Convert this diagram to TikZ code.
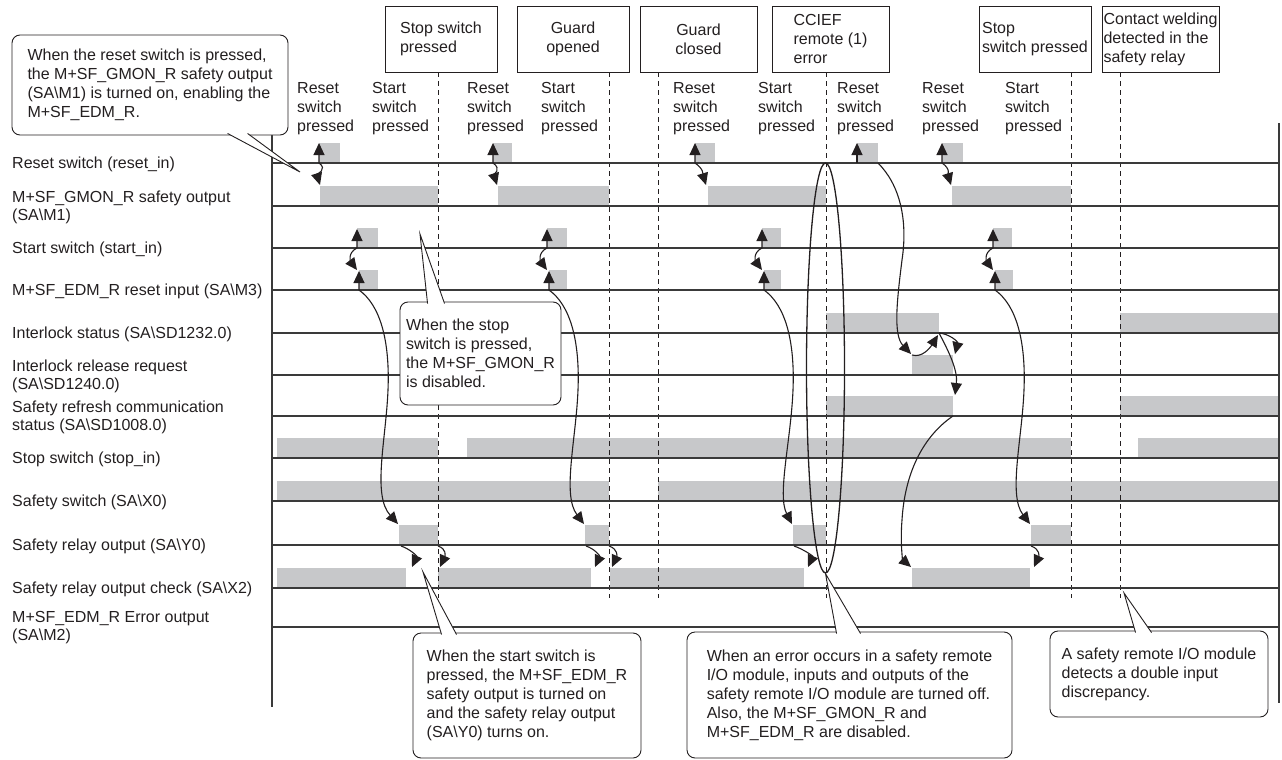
\documentclass[tikz,border=0pt]{standalone}
\usepackage{fontspec}
\setmainfont{Liberation Sans}
\usepackage{tikz}
\usetikzlibrary{arrows.meta,positioning,shapes.geometric}
\definecolor{ChartInk}{HTML}{231F20}
\definecolor{ChartLine}{HTML}{3A3A3A}
\definecolor{ChartGray}{HTML}{C7C8CA}
\newcommand{\SAbs}{SA\textbackslash}
\newcommand{\chartfont}{\fontsize{16}{19}\selectfont}
\newcommand{\rowfont}{\fontsize{16}{18}\selectfont}
\tikzset{
  evbox/.style={draw=ChartInk,line width=0.9pt,align=left,minimum height=66pt,inner sep=0pt,font=\chartfont,text=ChartInk},
  notebox/.style={draw=ChartInk,line width=0.9pt,fill=white,rounded corners=8pt,align=left,inner sep=0pt,font=\chartfont,text=ChartInk},
  notetail/.style={draw=ChartInk,line width=0.9pt,fill=white},
  rowlabel/.style={anchor=west,align=left,inner sep=0pt,font=\rowfont,text=ChartInk},
  colnote/.style={anchor=west,align=left,inner sep=0pt,font=\chartfont,text=ChartInk},
  sigline/.style={draw=ChartLine,line width=1.2pt},
  pulse/.style={fill=ChartGray},
  marker/.style={draw=ChartInk,line width=0.9pt,dash pattern=on 5pt off 4pt},
  cause/.style={-{Triangle[length=12pt,width=11pt]},draw=ChartInk,line width=1.1pt},
  bicause/.style={{Triangle[length=12pt,width=11pt]}-{Triangle[length=12pt,width=11pt]},draw=ChartInk,line width=1.1pt},
  ring/.style={draw=ChartInk,line width=1.3pt,ellipse,inner sep=0pt}
}

\begin{document}
\begin{tikzpicture}[x=1pt,y=-1pt]
\useasboundingbox (0,0) rectangle (1282,760);

\foreach \y/\xa/\xb in {163/319/340,163/493/512,163/695/715,163/857/878,163/942/963,
  206/320/438,206/498/609,206/708/826,206/952/1071,
  248/357/378,248/547/567,248/762/781,248/993/1012,
  290/359/378,290/549/567,290/764/781,290/995/1013,
  333/826/939,333/1120/1279,
  375/912/953,
  416/826/953,416/1120/1279,
  458/277/438,458/467/1071,458/1138/1279,
  501/277/609,501/658/1279,
  545/399/438,545/585/609,545/793/826,545/1031/1071,
  588/277/406,588/438/591,588/610/804,588/912/1030}
  \fill[pulse] (\xa,\y-20) rectangle (\xb,\y);

\node[evbox,minimum width=112pt] (evStopA) at (441,39) {Stop switch\\pressed};
\node[evbox,minimum width=112pt,align=center] (evOpen) at (573,39) {Guard\\opened};
\node[evbox,minimum width=117pt,align=center] (evClose) at (698.5,39) {Guard\\closed};
\node[evbox,minimum width=117pt] (evError) at (830.5,39) {CCIEF\\remote (1)\\error};
\node[evbox,minimum width=112pt] (evStopB) at (1035,39) {Stop\\switch pressed};
\node[evbox,minimum width=117pt] (evWeld) at (1160.5,39) {Contact welding\\detected in the\\safety relay};

\foreach \x/\ev in {438/evStopA,609/evOpen,658/evClose,826/evError,1071/evStopB,1120/evWeld}
  \draw[marker] (\x,0 |- \ev.south) -- (\x,598);

\foreach \y in {163,206,248,290,333,375,416,458,501,545,588,627}
  \draw[sigline] (272,\y) -- (1279,\y);
\draw[sigline] (272,133) -- (272,707);
\draw[sigline] (1279,123) -- (1279,703);

\foreach \y/\txt [count=\i] in {163/{Reset switch (reset\_in)},
  206/{M+SF\_GMON\_R safety output\\(\SAbs M1)},
  248/{Start switch (start\_in)},
  290/{M+SF\_EDM\_R reset input (\SAbs M3)},
  333/{Interlock status (\SAbs SD1232.0)},
  375/{Interlock release request\\(\SAbs SD1240.0)},
  416/{Safety refresh communication\\status (\SAbs SD1008.0)},
  458/{Stop switch (stop\_in)},
  501/{Safety switch (\SAbs X0)},
  545/{Safety relay output (\SAbs Y0)},
  588/{Safety relay output check (\SAbs X2)},
  627/{M+SF\_EDM\_R Error output\\(\SAbs M2)}}
  \node[rowlabel] (sig\i) at (12,\y+1) {\txt};

\foreach \x/\w [count=\i] in {297/Reset,372/Start,467/Reset,541/Start,673/Reset,758/Start,837/Reset,922/Reset,1005/Start}
  \node[colnote] (col\i) at (\x,109) {\w\\switch\\pressed};

\foreach \xa/\xb in {319/320,493/497,695/706,942/951}
  \draw[bicause] (\xa,143) -- (\xa,163) .. controls (\xa+9,169) and (\xb-3,175) .. (\xb,185);
\foreach \xa in {357,547,762,993}
  \draw[bicause] (\xa,229) -- (\xa,248) .. controls (\xa-10,253) and (\xa-6,262) .. (\xa,270);
\foreach \xa/\xb in {359/398,549/584,764/792,995/1030}
  \draw[bicause] (\xa,271) -- (\xa,290) .. controls (\xa+21,305) and (\xa+31,340) .. (\xa+29,390)
    .. controls (\xa+27,440) and (\xa+13,495) .. (\xb,524);
\foreach \xa/\xb in {401/412,438/440,586/595,609/612,794/808,1031/1034}
  \draw[cause] (\xa,546) .. controls (\xa+9,549) and (\xb+5,556) .. (\xb,567);

\draw[cause] (857,163) -- (857,143);
\draw[cause] (878,163) .. controls (900,185) and (908,220) .. (902,260) .. controls (897,300) and (893,335) .. (911,354);
\draw[cause] (912,355) .. controls (922,358) and (930,348) .. (938,335);
\draw[cause] (939,333) .. controls (950,334) and (958,342) .. (955,354);
\draw[cause] (939,333) .. controls (948,350) and (958,370) .. (955,395);
\draw[cause] (953,416) .. controls (925,435) and (905,470) .. (902,520) .. controls (900,545) and (903,560) .. (911,567);

\node[ring,minimum width=38pt,minimum height=410pt] (errRing) at (825.5,368) {};

\node[notebox,minimum width=276pt,minimum height=100pt] (noteReset) at (150,85)
  {When the reset switch is pressed,\\the M+SF\_GMON\_R safety output\\(\SAbs M1) is turned on, enabling the\\M+SF\_EDM\_R.};
\coordinate (tipReset) at (300,172);
\draw[notetail] ([xshift=216pt,yshift=2pt]noteReset.south west) -- (tipReset) -- ([xshift=236pt,yshift=2pt]noteReset.south west);

\node[notebox,minimum width=161pt,minimum height=103pt] (noteStop) at (480.5,353.5)
  {When the stop\\switch is pressed,\\the M+SF\_GMON\_R\\is disabled.};
\coordinate (tipStop) at (420,234);
\draw[notetail] ([xshift=28pt,yshift=-2pt]noteStop.north west) -- (tipStop) -- ([xshift=45pt,yshift=-2pt]noteStop.north west);

\node[notebox,minimum width=228pt,minimum height=125pt] (noteStart) at (527,695.5)
  {When the start switch is\\pressed, the M+SF\_EDM\_R\\safety output is turned on\\and the safety relay output\\(\SAbs Y0) turns on.};
\coordinate (tipStart) at (423,572);
\draw[notetail] ([xshift=29pt,yshift=-2pt]noteStart.north west) -- (tipStart) -- ([xshift=44pt,yshift=-2pt]noteStart.north west);

\node[notebox,minimum width=325pt,minimum height=126pt] (noteError) at (849.5,695)
  {When an error occurs in a safety remote\\I/O module, inputs and outputs of the\\safety remote I/O module are turned off.\\Also, the M+SF\_GMON\_R and\\M+SF\_EDM\_R are disabled.};
\draw[notetail] ([xshift=150pt,yshift=-2pt]noteError.north west) -- (errRing.south) -- ([xshift=174pt,yshift=-2pt]noteError.north west);

\node[notebox,minimum width=218pt,minimum height=86pt] (noteWeld) at (1159,674)
  {A safety remote I/O module\\detects a double input\\discrepancy.};
\coordinate (tipWeld) at (1124,593);
\draw[notetail] ([xshift=86pt,yshift=-2pt]noteWeld.north west) -- (tipWeld) -- ([xshift=102pt,yshift=-2pt]noteWeld.north west);
\end{tikzpicture}
\end{document}
